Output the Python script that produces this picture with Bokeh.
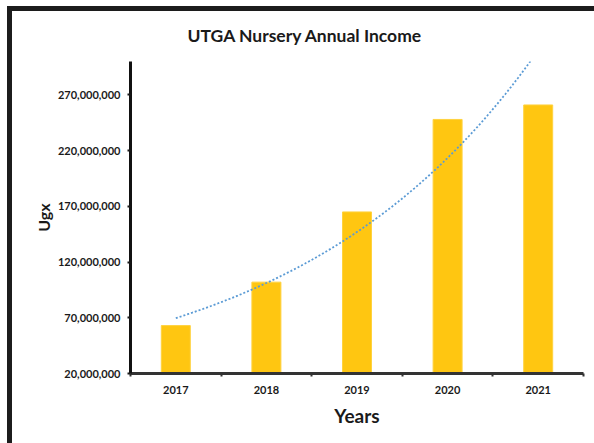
import numpy as np
from bokeh.plotting import figure
from bokeh.models import (Range1d, FixedTicker, NumeralTickFormatter, Title)
from bokeh.embed import file_html
from bokeh.resources import INLINE

# ---- data ----
years = ["2017", "2018", "2019", "2020", "2021"]
income = [63_000_000, 102_000_000, 165_000_000, 248_000_000, 261_000_000]
y_ticks = [20_000_000, 70_000_000, 120_000_000, 170_000_000, 220_000_000, 270_000_000]
title_text = "UTGA Nursery Annual Income"
x_title = "Years"
y_title = "Ugx"

xpos = list(range(1, len(years) + 1))

# exponential trendline fitted to the data (as the spreadsheet trendline does)
b, a = np.polyfit(xpos, np.log(income), 1)
tx = np.linspace(1, len(years), 200)
ty = np.exp(a + b * tx)

FONT = "Lato"
DARK = "#1a1a1a"

W, H = 594, 443
p = figure(width=W, height=H, output_backend="svg", toolbar_location=None,
           x_range=Range1d(0.5, len(years) + 0.5), y_range=Range1d(20_000_000, 300_000_000),
           min_border_left=130, min_border_right=11, min_border_top=61, min_border_bottom=70)
p.title = Title(text=title_text, align="left", offset=57, text_font=FONT,
                text_font_size="17.5px", text_font_style="bold", text_color=DARK, standoff=31)
p.outline_line_color = None
p.xgrid.grid_line_color = None
p.ygrid.grid_line_color = None
p.background_fill_color = "white"
p.border_fill_color = None
# outer chart border (left and top edges of the chart area), drawn behind the transparent border area
p.styles = {
    "background": ("linear-gradient(#1c1c1c,#1c1c1c) 7px 6px / 5px 437px no-repeat, "
                   "linear-gradient(#1c1c1c,#1c1c1c) 7px 6px / 587px 5px no-repeat, white"),
}

p.vbar(x=xpos, top=income, bottom=20_000_000, width=0.32, fill_color="#FFC611",
       line_color="#FFD23F", line_width=1)
p.line(tx, ty, line_color="#5B9BD5", line_width=1.8, line_dash="2 2")

# x axis
xa = p.xaxis[0]
xa.ticker = FixedTicker(ticks=xpos, minor_ticks=[i + 0.5 for i in range(0, len(years) + 1)])
xa.major_label_overrides = {i + 1: y for i, y in enumerate(years)}
xa.major_tick_line_color = None
xa.minor_tick_line_color = "#333333"
xa.minor_tick_line_width = 2
xa.minor_tick_out = 3
xa.minor_tick_in = 0
xa.axis_line_color = "#333333"
xa.axis_line_width = 3
xa.major_label_standoff = 6
xa.major_label_text_font = FONT
xa.major_label_text_font_size = "11px"
xa.major_label_text_font_style = "bold"
xa.major_label_text_color = DARK
xa.axis_label = x_title
xa.axis_label_text_font = FONT
xa.axis_label_text_font_size = "19px"
xa.axis_label_text_font_style = "bold"
xa.axis_label_text_color = DARK
xa.axis_label_standoff = 7

# y axis
ya = p.yaxis[0]
ya.ticker = FixedTicker(ticks=y_ticks)
ya.formatter = NumeralTickFormatter(format="0,0")
ya.minor_tick_line_color = None
ya.major_tick_line_color = DARK
ya.major_tick_line_width = 2
ya.major_tick_out = 3
ya.major_tick_in = 0
ya.axis_line_color = "#111111"
ya.axis_line_width = 3
ya.major_label_standoff = 7
ya.major_label_text_font = FONT
ya.major_label_text_font_size = "11px"
ya.major_label_text_font_style = "bold"
ya.major_label_text_color = DARK
ya.axis_label = y_title
ya.axis_label_text_font = FONT
ya.axis_label_text_font_size = "16px"
ya.axis_label_text_font_style = "bold"
ya.axis_label_text_color = DARK
ya.axis_label_standoff = 2

open("out.html", "w").write(file_html(p, INLINE))
